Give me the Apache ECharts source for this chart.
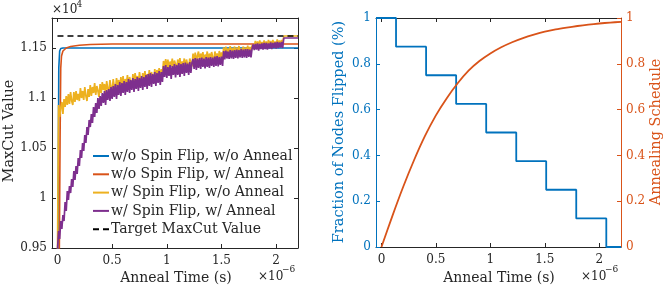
<!DOCTYPE html>
<html><head><meta charset="utf-8">
<script src="https://cdn.jsdelivr.net/npm/echarts@6/dist/echarts.min.js"></script>
<style>html,body{margin:0;padding:0;background:#fff}#c{width:665px;height:289px}</style>
</head><body><div id="c"></div><script>
// ---- data (left panel: MaxCut value vs anneal time, time in units of 1e-6 s) ----
const noisyTimes = [
  0.00,0.01,0.02,0.03,0.04,0.05,0.06,0.07,0.08,0.09,
  0.10,0.11,0.12,0.13,0.14,0.15,0.16,0.17,0.18,0.19,
  0.20,0.21,0.22,0.23,0.24,0.25,0.26,0.27,0.28,0.29,
  0.30,0.31,0.32,0.33,0.34,0.35,0.36,0.37,0.38,0.39,
  0.40,0.41,0.42,0.43,0.44,0.45,0.46,0.47,0.48,0.49,
  0.50,0.51,0.52,0.53,0.54,0.55,0.56,0.57,0.58,0.59,
  0.60,0.61,0.62,0.63,0.64,0.65,0.66,0.67,0.68,0.69,
  0.70,0.71,0.72,0.73,0.74,0.75,0.76,0.77,0.78,0.79,
  0.80,0.81,0.82,0.83,0.84,0.85,0.86,0.87,0.88,0.89,
  0.90,0.91,0.92,0.93,0.94,0.95,0.96,0.97,0.98,0.99,
  1.00,1.01,1.02,1.03,1.04,1.05,1.06,1.07,1.08,1.09,
  1.10,1.11,1.12,1.13,1.14,1.15,1.16,1.17,1.18,1.19,
  1.20,1.21,1.22,1.23,1.24,1.25,1.26,1.27,1.28,1.29,
  1.30,1.31,1.32,1.33,1.34,1.35,1.36,1.37,1.38,1.39,
  1.40,1.41,1.42,1.43,1.44,1.45,1.46,1.47,1.48,1.49,
  1.50,1.51,1.52,1.53,1.54,1.55,1.56,1.57,1.58,1.59,
  1.60,1.61,1.62,1.63,1.64,1.65,1.66,1.67,1.68,1.69,
  1.70,1.71,1.72,1.73,1.74,1.75,1.76,1.77,1.78,1.79,
  1.80,1.81,1.82,1.83,1.84,1.85,1.86,1.87,1.88,1.89,
  1.90,1.91,1.92,1.93,1.94,1.95,1.96,1.97,1.98,1.99,
  2.00,2.01,2.02,2.03,2.04,2.05,2.06,2.07,2.08,2.09,
  2.10,2.11,2.12,2.13,2.14,2.15,2.16,2.17,2.18,2.19,
  2.20];
const yellowVals = [
  9400,10930,10810,10900,10960,10840,10990,10910,11020,10930,
  11040,10940,11060,10970,10930,11060,10960,11070,10980,11040,
  10970,11100,11000,11070,10980,11110,11020,10970,11090,11010,
  11130,11020,11110,11050,11150,11030,11120,11070,11010,11140,
  11050,11160,11080,11140,11040,11170,11090,11060,11180,11100,
  11070,11190,11110,11080,11200,11120,11180,11080,11210,11110,
  11220,11100,11190,11130,11230,11110,11210,11150,11100,11240,
  11140,11250,11160,11220,11120,11260,11180,11140,11250,11170,
  11270,11160,11240,11180,11280,11150,11260,11200,11170,11290,
  11190,11280,11210,11300,11180,11290,11240,11370,11300,11390,
  11300,11385,11285,11365,11315,11395,11295,11375,11335,11285,
  11385,11315,11400,11295,11365,11325,11395,11305,11385,11335,
  11295,11395,11345,11315,11445,11365,11455,11355,11425,11465,
  11365,11445,11385,11460,11355,11435,11395,11465,11365,11445,
  11380,11460,11405,11365,11465,11395,11445,11375,11470,11405,
  11455,11385,11505,11435,11515,11425,11495,11445,11520,11430,
  11500,11445,11515,11425,11505,11455,11520,11440,11495,11465,
  11515,11435,11505,11450,11525,11445,11510,11460,11525,11545,
  11510,11570,11520,11565,11505,11575,11525,11560,11515,11575,
  11525,11565,11510,11580,11530,11570,11515,11580,11535,11565,
  11520,11585,11530,11575,11525,11580,11540,11620,11620,11620,
  11620,11620,11620,11620,11620,11620,11620,11620,11620,11620,
  11620];
const purpleVals = [
  9480,9670,9590,9770,9690,9830,9770,9960,9870,10070,
  9980,10120,10050,10190,10110,10270,10180,10320,10240,10400,
  10320,10480,10400,10550,10470,10630,10550,10710,10630,10780,
  10710,10840,10750,10910,10810,10950,10850,11000,10890,11020,
  10920,11050,10950,11070,10930,11080,10980,11090,10970,11110,
  10990,11120,11010,11140,10990,11130,11030,11160,11020,11150,
  11050,11170,11030,11160,11060,11190,11050,11180,11080,11200,
  11060,11190,11090,11210,11070,11200,11100,11220,11080,11210,
  11110,11230,11090,11240,11120,11250,11110,11240,11140,11260,
  11120,11250,11150,11270,11130,11260,11160,11320,11210,11330,
  11200,11310,11220,11330,11190,11320,11230,11340,11205,11330,
  11230,11350,11210,11340,11240,11350,11220,11355,11250,11345,
  11230,11360,11250,11350,11390,11290,11400,11280,11395,11300,
  11400,11290,11405,11310,11395,11295,11410,11310,11405,11300,
  11410,11320,11405,11310,11415,11320,11420,11315,11410,11330,
  11415,11320,11470,11385,11475,11395,11465,11390,11480,11395,
  11475,11390,11480,11400,11485,11395,11480,11405,11490,11400,
  11485,11405,11490,11400,11490,11410,11485,11405,11495,11535,
  11480,11540,11485,11545,11475,11540,11490,11545,11485,11550,
  11490,11550,11485,11545,11495,11555,11490,11550,11500,11555,
  11495,11560,11500,11555,11505,11560,11500,11600,11600,11600,
  11600,11600,11600,11600,11600,11600,11600,11600,11600,11600,
  11600];
const blueTimes = [0.004,0.012,0.02,0.03,0.05,2.2];
const blueVals = [9300,11300,11470,11495,11500,11500];
const orangeTimes = [0.016,0.024,0.03,0.037,0.05,0.08,0.12,0.2,0.3,0.5,2.2];
const orangeVals = [9300,10600,11300,11420,11470,11500,11515,11527,11535,11540,11540];
const targetTimes = [0,2.2];
const targetVals = [11620,11620];
const legendNames = ['w/o Spin Flip, w/o Anneal','w/o Spin Flip, w/ Anneal','w/ Spin Flip, w/o Anneal','w/ Spin Flip, w/ Anneal','Target MaxCut Value'];
// ---- data (right panel) ----
const stepTimes = [-0.05,0.134,0.41,0.686,0.962,1.238,1.513,1.789,2.065,2.2];
const stepVals = [1,0.875,0.75,0.625,0.5,0.375,0.25,0.125,0,0];
const schedTimes = [0,0.1,0.2,0.3,0.4,0.5,0.6,0.7,0.8,0.9,1.0,1.1,1.2,1.3,1.4,1.5,1.6,1.7,1.8,1.9,2.0,2.1,2.2];
const schedVals = [0,0.135,0.263,0.38,0.485,0.575,0.65,0.715,0.77,0.812,0.845,0.872,0.894,0.912,0.927,0.94,0.95,0.958,0.965,0.971,0.976,0.98,0.983];
const xTicks = [0,0.5,1,1.5,2];
const yTicksLeft = [9500,10000,10500,11000,11500];

const FF = 'DejaVu Serif';
const DARK = '#262626';
const BLUE = '#0072BD', ORANGE = '#D95319', YELLOW = '#EDB120', PURPLE = '#7E2F8E';
const zip = (a, b) => a.map((x, i) => [x, b[i]]);

function xAx(grid, pos, labels, color) {
  return {
    gridIndex: grid, type: 'value', min: -0.05, max: 2.2, position: pos,
    axisLine: {show: true, onZero: false, lineStyle: {color: color, width: 1}},
    axisTick: {show: true, inside: true, length: 4, customValues: xTicks, lineStyle: {color: color}},
    axisLabel: {show: labels, customValues: xTicks, margin: 7, color: DARK, fontFamily: FF, fontSize: 12,
      formatter: v => String(v)},
    splitLine: {show: false}
  };
}

const chart = echarts.init(document.getElementById('c'), null, {renderer: 'canvas'});
chart.setOption({
  animation: false,
  backgroundColor: '#fff',
  grid: [
    {left: 52, top: 18, width: 246, height: 230, show: false},
    {left: 376, top: 18, width: 245, height: 229, show: false}
  ],
  xAxis: [
    xAx(0, 'bottom', true, DARK),
    xAx(0, 'top', false, DARK),
    xAx(1, 'bottom', true, DARK),
    xAx(1, 'top', false, DARK)
  ],
  yAxis: [
    {gridIndex: 0, type: 'value', min: 9500, max: 11800, position: 'left',
      axisLine: {show: true, onZero: false, lineStyle: {color: DARK}},
      axisTick: {show: true, inside: true, length: 4, customValues: yTicksLeft, lineStyle: {color: DARK}},
      axisLabel: {customValues: yTicksLeft, margin: 5, color: DARK, fontFamily: FF, fontSize: 12,
        formatter: v => String(+(v / 10000).toFixed(2))},
      splitLine: {show: false}},
    {gridIndex: 0, type: 'value', min: 9500, max: 11800, position: 'right',
      axisLine: {show: true, onZero: false, lineStyle: {color: DARK}},
      axisTick: {show: true, inside: true, length: 4, customValues: yTicksLeft, lineStyle: {color: DARK}},
      axisLabel: {show: false}, splitLine: {show: false}},
    {gridIndex: 1, type: 'value', min: 0, max: 1, interval: 0.2, position: 'left',
      axisLine: {show: true, onZero: false, lineStyle: {color: BLUE}},
      axisTick: {show: true, inside: true, length: 4, lineStyle: {color: BLUE}},
      axisLabel: {margin: 5, color: BLUE, fontFamily: FF, fontSize: 12, formatter: v => String(+v.toFixed(1))},
      splitLine: {show: false}},
    {gridIndex: 1, type: 'value', min: 0, max: 1, interval: 0.2, position: 'right',
      axisLine: {show: true, onZero: false, lineStyle: {color: ORANGE}},
      axisTick: {show: true, inside: true, length: 4, lineStyle: {color: ORANGE}},
      axisLabel: {margin: 5, color: ORANGE, fontFamily: FF, fontSize: 12, formatter: v => String(+v.toFixed(1))},
      splitLine: {show: false}}
  ],
  legend: {
    data: legendNames, left: 92, top: 149, orient: 'vertical', itemWidth: 16, itemHeight: 14, itemGap: 4.3,
    selectedMode: false, padding: 0,
    itemStyle: {opacity: 0},
    lineStyle: {width: 2},
    textStyle: {fontFamily: FF, fontSize: 14, color: DARK, padding: [0, 0, 0, -3]}
  },
  series: [
    {name: legendNames[0], type: 'line', xAxisIndex: 0, yAxisIndex: 0, data: zip(blueTimes, blueVals),
      symbol: 'none', lineStyle: {color: BLUE, width: 1.6}, itemStyle: {color: BLUE}},
    {name: legendNames[1], type: 'line', xAxisIndex: 0, yAxisIndex: 0, data: zip(orangeTimes, orangeVals),
      symbol: 'none', lineStyle: {color: ORANGE, width: 1.6}, itemStyle: {color: ORANGE}},
    {name: legendNames[2], type: 'line', xAxisIndex: 0, yAxisIndex: 0, data: zip(noisyTimes, yellowVals),
      symbol: 'none', lineStyle: {color: YELLOW, width: 1.7}, itemStyle: {color: YELLOW}},
    {name: legendNames[3], type: 'line', xAxisIndex: 0, yAxisIndex: 0, data: zip(noisyTimes, purpleVals),
      symbol: 'none', lineStyle: {color: PURPLE, width: 1.7}, itemStyle: {color: PURPLE}},
    {name: legendNames[4], type: 'line', xAxisIndex: 0, yAxisIndex: 0, data: zip(targetTimes, targetVals),
      symbol: 'none', lineStyle: {color: '#000', width: 1.6, type: [6, 4]}, itemStyle: {color: '#000'}},
    {name: 'flip', type: 'line', xAxisIndex: 2, yAxisIndex: 2, data: zip(stepTimes, stepVals), step: 'end',
      clip: false, symbol: 'none', lineStyle: {color: BLUE, width: 1.8}},
    {name: 'sched', type: 'line', xAxisIndex: 2, yAxisIndex: 3, data: zip(schedTimes, schedVals), smooth: 0.3,
      clip: false, symbol: 'none', lineStyle: {color: ORANGE, width: 1.8}}
  ],
  graphic: [
    {type: 'text', x: 52, y: 10, style: {text: '×10', fontFamily: FF, fontSize: 12, fill: DARK, align: 'left', verticalAlign: 'middle'}},
    {type: 'text', x: 76.5, y: 5, style: {text: '4', fontFamily: FF, fontSize: 9, fill: DARK, align: 'left', verticalAlign: 'middle'}},
    {type: 'text', x: 258, y: 277, style: {text: '×10', fontFamily: FF, fontSize: 12, fill: DARK, align: 'left', verticalAlign: 'middle'}},
    {type: 'text', x: 282, y: 270, style: {text: '−6', fontFamily: FF, fontSize: 9, fill: DARK, align: 'left', verticalAlign: 'middle'}},
    {type: 'text', x: 581, y: 277, style: {text: '×10', fontFamily: FF, fontSize: 12, fill: DARK, align: 'left', verticalAlign: 'middle'}},
    {type: 'text', x: 605, y: 270, style: {text: '−6', fontFamily: FF, fontSize: 9, fill: DARK, align: 'left', verticalAlign: 'middle'}},
    {type: 'text', x: 176, y: 278, style: {text: 'Anneal Time (s)', fontFamily: FF, fontSize: 14, fill: DARK, align: 'center', verticalAlign: 'middle'}},
    {type: 'text', x: 499, y: 278, style: {text: 'Anneal Time (s)', fontFamily: FF, fontSize: 14, fill: DARK, align: 'center', verticalAlign: 'middle'}},
    {type: 'text', x: 9, y: 131, rotation: Math.PI / 2, style: {text: 'MaxCut Value', fontFamily: FF, fontSize: 14.5, fill: DARK, align: 'center', verticalAlign: 'middle'}},
    {type: 'text', x: 339, y: 132, rotation: Math.PI / 2, style: {text: 'Fraction of Nodes Flipped (%)', fontFamily: FF, fontSize: 14.5, fill: BLUE, align: 'center', verticalAlign: 'middle'}},
    {type: 'text', x: 656, y: 132, rotation: Math.PI / 2, style: {text: 'Annealing Schedule', fontFamily: FF, fontSize: 14.5, fill: ORANGE, align: 'center', verticalAlign: 'middle'}}
  ]
});
</script></body></html>
